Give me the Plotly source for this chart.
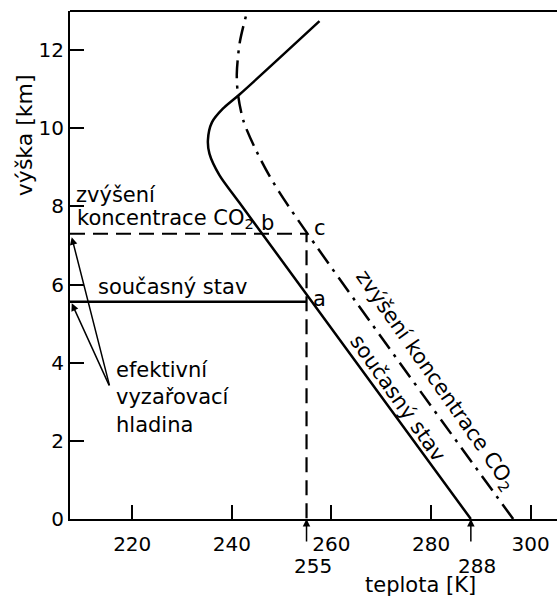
import plotly.graph_objects as go

# Data
T_now = [288, 241.5, 237.5, 235.5, 235.2, 236.0, 238.2, 241.6, 257.6]
Z_now = [0, 8.1, 8.8, 9.35, 9.7, 10.15, 10.5, 10.87, 12.74]

T_co2 = [296.5, 249.5, 245.0, 242.3, 241.2, 241.0, 241.6, 243.1]
Z_co2 = [0, 8.37, 9.4, 10.2, 10.9, 11.4, 12.2, 13.0]

T_eff = 255          # effective radiating temperature
T_surf = 288         # surface temperature
Z_eff_now = 5.56     # effective radiating level, present
Z_eff_co2 = 7.3      # effective radiating level, increased CO2

X_MIN, X_MAX = 207.5, 305.3
Y_MIN, Y_MAX = 0, 13
x_ticks = [220, 240, 260, 280, 300]
y_ticks = [0, 2, 4, 6, 8, 10, 12]

FONT = "DejaVu Sans"
FS = 21
FS_TICK = 20

fig = go.Figure()

fig.add_trace(go.Scatter(x=T_now, y=Z_now, mode="lines",
                         line=dict(color="black", width=2.5, shape="spline", smoothing=0.8),
                         hoverinfo="skip", showlegend=False))
fig.add_trace(go.Scatter(x=T_co2, y=Z_co2, mode="lines",
                         line=dict(color="black", width=2.5, shape="spline", smoothing=0.8,
                                   dash="18px,7px,3px,7px"),
                         hoverinfo="skip", showlegend=False))
# present state level
fig.add_trace(go.Scatter(x=[X_MIN, T_eff], y=[Z_eff_now, Z_eff_now], mode="lines",
                         line=dict(color="black", width=2.5),
                         hoverinfo="skip", showlegend=False))
# increased CO2 level
fig.add_trace(go.Scatter(x=[X_MIN, T_eff, T_eff], y=[Z_eff_co2, Z_eff_co2, 0], mode="lines",
                         line=dict(color="black", width=2.2, dash="15px,8px"),
                         hoverinfo="skip", showlegend=False))

ann = []
def txt(x, y, t, xa="center", ya="middle", ang=0, xref="x", yref="y", size=FS, align="center"):
    ann.append(dict(x=x, y=y, text=t, xref=xref, yref=yref, xanchor=xa, yanchor=ya,
                    textangle=ang, showarrow=False, align=align,
                    font=dict(family=FONT, size=size, color="black")))

txt(208.3, 8.29, "zvýšení", xa="left")
txt(208.6, 7.68, "koncentrace CO<sub>2</sub>", xa="left")
txt(212.7, 5.93, "současný stav", xa="left")
txt(216.3, 3.12, "efektivní<br>vyzařovací<br>hladina", xa="left", align="left")
txt(257.7, 5.62, "a")
txt(247.2, 7.57, "b")
txt(257.7, 7.44, "c")
txt(273.3, 3.09, "současný stav", ang=55)
txt(280.8, 3.55, "zvýšení koncentrace CO<sub>2</sub>", ang=55)

# labels below the axis
txt(256.2, -0.0925, "255", yref="paper", size=FS_TICK)
txt(289.2, -0.0925, "288", yref="paper", size=FS_TICK)
txt(277.8, -0.130, "teplota [K]", yref="paper", size=21)
txt(-0.092, 0.756, "výška [km]", xref="paper", yref="paper", ang=-90, size=22)

# arrows
for xv in [T_eff, T_surf]:
    ann.append(dict(x=xv, y=0, xref="x", yref="y", ax=0, ay=24, text="",
                    showarrow=True, arrowhead=2, arrowsize=1, arrowwidth=1.5,
                    arrowcolor="black"))
for zt in [Z_eff_now - 0.04, Z_eff_co2 - 0.09]:
    ann.append(dict(x=207.85, y=zt, xref="x", yref="y", ax=215.5, ay=3.38,
                    axref="x", ayref="y", text="", showarrow=True, arrowhead=2,
                    arrowsize=1, arrowwidth=1.5, arrowcolor="black"))

fig.update_layout(
    width=557, height=599,
    margin=dict(l=70, r=0, t=11, b=80),
    paper_bgcolor="white", plot_bgcolor="white",
    font=dict(family=FONT, size=FS, color="black"),
    annotations=ann,
    shapes=[dict(type="line", xref="paper", yref="paper", x0=0, x1=1, y0=1, y1=1,
                 line=dict(color="black", width=2))],
    xaxis=dict(range=[X_MIN, X_MAX], tickvals=x_ticks, ticks="inside", ticklen=14,
               tickwidth=2, tickcolor="black", showline=True, linecolor="black",
               linewidth=2, showgrid=False, zeroline=False, ticklabelstandoff=6,
               tickfont=dict(family=FONT, size=FS_TICK, color="black")),
    yaxis=dict(range=[Y_MIN, Y_MAX], tickvals=y_ticks, ticks="inside", ticklen=14,
               tickwidth=2, tickcolor="black", showline=True, linecolor="black",
               linewidth=2, showgrid=False, zeroline=False, ticklabelstandoff=0,
               tickfont=dict(family=FONT, size=FS_TICK, color="black")),
)

fig.write_html("out.html")
